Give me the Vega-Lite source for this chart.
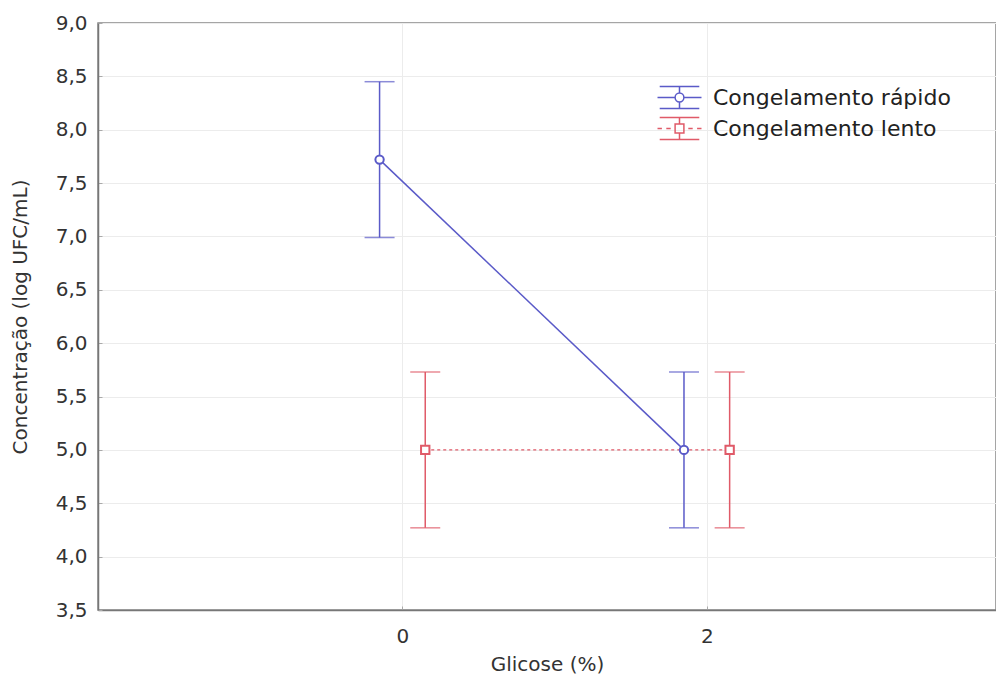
{
  "$schema": "https://vega.github.io/schema/vega-lite/v6.json",
  "width": 898,
  "height": 587,
  "autosize": {"type": "none"},
  "padding": {"left": 98, "top": 23, "right": 0, "bottom": 74},
  "background": "white",
  "config": {
    "locale": {"number": {"decimal": ",", "thousands": ".", "grouping": [3], "currency": ["", ""]}},
    "font": "DejaVu Sans",
    "view": {"stroke": "#888", "strokeWidth": 1.5},
    "axis": {
      "labelFont": "DejaVu Sans",
      "titleFont": "DejaVu Sans",
      "labelFontSize": 20,
      "titleFontSize": 20,
      "labelColor": "#333",
      "titleColor": "#333",
      "titleFontWeight": "normal",
      "domainColor": "#777",
      "domainWidth": 1.5,
      "tickColor": "#aaa",
      "gridColor": "#ececec",
      "gridWidth": 1
    }
  },
  "data": {
    "values": [
      {"serie": "Congelamento rápido", "x": -0.15, "media": 7.72, "lo": 6.99, "hi": 8.45},
      {"serie": "Congelamento rápido", "x": 1.85, "media": 5.0, "lo": 4.27, "hi": 5.73},
      {"serie": "Congelamento lento", "x": 0.15, "media": 5.0, "lo": 4.27, "hi": 5.73},
      {"serie": "Congelamento lento", "x": 2.15, "media": 5.0, "lo": 4.27, "hi": 5.73}
    ]
  },
  "encoding": {
    "x": {
      "field": "x",
      "type": "quantitative",
      "scale": {"domain": [-2, 3.9], "nice": false, "zero": false},
      "axis": {"values": [0, 2], "format": "d", "title": "Glicose (%)", "tickSize": -4, "labelPadding": 20, "titlePadding": 8}
    },
    "color": {
      "field": "serie",
      "type": "nominal",
      "scale": {"domain": ["Congelamento rápido", "Congelamento lento"], "range": ["#5a5ac8", "#e05a68"]},
      "legend": null
    }
  },
  "layer": [
    {
      "mark": {"type": "rule", "strokeWidth": 1.5},
      "encoding": {
        "y": {
          "field": "lo",
          "type": "quantitative",
          "scale": {"domain": [3.5, 9], "nice": false, "zero": false},
          "axis": {"values": [3.5, 4, 4.5, 5, 5.5, 6, 6.5, 7, 7.5, 8, 8.5, 9], "format": ".1f", "title": "Concentração (log UFC/mL)", "tickSize": -4, "labelPadding": 15, "titlePadding": 25}
        },
        "y2": {"field": "hi"}
      }
    },
    {
      "mark": {"type": "tick", "orient": "horizontal", "size": 30, "thickness": 1.5},
      "encoding": {"y": {"field": "lo", "type": "quantitative"}}
    },
    {
      "mark": {"type": "tick", "orient": "horizontal", "size": 30, "thickness": 1.5},
      "encoding": {"y": {"field": "hi", "type": "quantitative"}}
    },
    {
      "transform": [{"filter": {"field": "serie", "equal": "Congelamento rápido"}}],
      "mark": {"type": "line", "strokeWidth": 1.5},
      "encoding": {"y": {"field": "media", "type": "quantitative"}}
    },
    {
      "transform": [{"filter": {"field": "serie", "equal": "Congelamento lento"}}],
      "mark": {"type": "line", "strokeWidth": 1.2, "strokeDash": [3, 3]},
      "encoding": {"y": {"field": "media", "type": "quantitative"}}
    },
    {
      "mark": {"type": "point", "filled": false, "fill": "white", "strokeWidth": 2, "size": 70, "opacity": 1},
      "encoding": {
        "y": {"field": "media", "type": "quantitative"},
        "shape": {
          "field": "serie",
          "type": "nominal",
          "scale": {"domain": ["Congelamento rápido", "Congelamento lento"], "range": ["circle", "square"]},
          "legend": null
        }
      }
    },
    {
      "mark": {"type": "point", "filled": false, "opacity": 0, "size": 860},
      "encoding": {
        "y": {"field": "media", "type": "quantitative"},
        "color": {
          "field": "serie",
          "type": "nominal",
          "scale": {"domain": ["Congelamento rápido", "Congelamento lento"], "range": ["#5a5ac8", "#e05a68"]},
          "legend": {
            "title": null,
            "orient": "none",
            "legendX": 566,
            "legendY": 59,
            "padding": 0,
            "labelFont": "DejaVu Sans",
            "labelFontSize": 22,
            "labelColor": "#222",
            "labelOffset": 18,
            "labelLimit": 400,
            "symbolSize": 860,
            "symbolOpacity": 1,
            "symbolStrokeWidth": 1.5,
            "symbolFillColor": "white",
            "rowPadding": 1
          }
        },
        "shape": {
          "field": "serie",
          "type": "nominal",
          "scale": {
            "domain": ["Congelamento rápido", "Congelamento lento"],
            "range": [
              "M-1.5,0H-0.3M0.3,0H1.5M-1.35,-0.75H1.35M-1.35,0.75H1.35M0,-0.75V-0.3M0,0.3V0.75M0.3,0A0.3,0.3,0,1,1,-0.3,0A0.3,0.3,0,1,1,0.3,0Z",
              "M-1.5,0H-1.2M-0.9,0H-0.6M0.6,0H0.9M1.2,0H1.5M-1.35,-0.75H1.35M-1.35,0.75H1.35M0,-0.75V-0.3M0,0.3V0.75M-0.3,-0.3H0.3V0.3H-0.3Z"
            ]
          },
          "legend": {
            "title": null,
            "orient": "none",
            "legendX": 566,
            "legendY": 59,
            "padding": 0,
            "labelFont": "DejaVu Sans",
            "labelFontSize": 22,
            "labelColor": "#222",
            "labelOffset": 18,
            "labelLimit": 400,
            "symbolSize": 860,
            "symbolOpacity": 1,
            "symbolStrokeWidth": 1.5,
            "symbolFillColor": "white",
            "rowPadding": 1
          }
        }
      }
    }
  ],
  "resolve": {"scale": {"shape": "independent", "color": "independent"}}
}
